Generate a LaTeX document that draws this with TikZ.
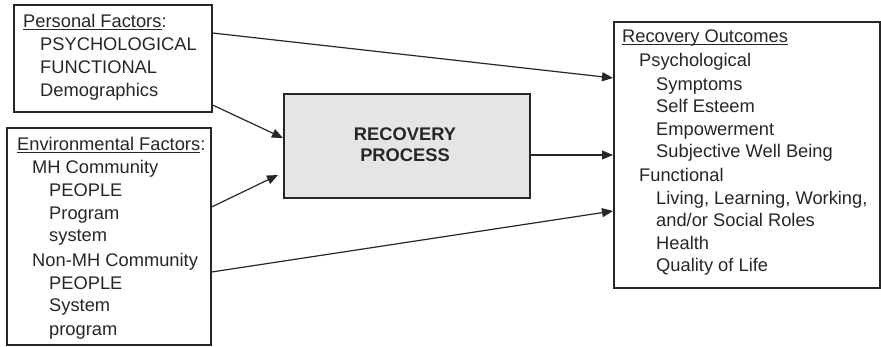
\documentclass[tikz,border=0pt]{standalone}
\usepackage{fontspec}
\setmainfont{Liberation Sans}
\usetikzlibrary{arrows.meta,calc}
\newcommand\myul[1]{\underline{\smash{#1}}}
\begin{document}
\begin{tikzpicture}[x=1pt,y=-1pt,
  box/.style={draw=black!85,line width=1.6pt,rectangle,inner sep=0pt,anchor=north west},
  txt/.style={anchor=base west,inner sep=0pt,font=\fontsize{18.3}{22}\selectfont,text=black!85},
  arr/.style={draw=black!85,line width=1.2pt,-{Triangle[length=11pt,width=9pt]}}]
\useasboundingbox (0,0) rectangle (881,347);
% boxes
\node[box,minimum width=198pt,minimum height=107pt] (pers) at (13,4) {};
\node[box,minimum width=204pt,minimum height=217pt] (env) at (6,127) {};
\node[box,fill=black!10,minimum width=246pt,minimum height=104pt] (rp) at (283,93) {};
\node[box,minimum width=266pt,minimum height=266pt] (out) at (613,21) {};
% personal
\node[txt] (p0) at (23,28) {\myul{Personal Factors}:};
\node[txt] (p1) at (40,51) {PSYCHOLOGICAL};
\node[txt] (p2) at (40,74) {FUNCTIONAL};
\node[txt] (p3) at (40,97) {Demographics};
% environmental
\node[txt] (e0) at (17,151) {\myul{Environmental Factors}:};
\node[txt] (e1) at (32,174) {MH Community};
\node[txt] (e2) at (49,197) {PEOPLE};
\node[txt] (e3) at (49,220) {Program};
\node[txt] (e4) at (49,242) {system};
\node[txt] (e5) at (32,267) {Non-MH Community};
\node[txt] (e6) at (49,290) {PEOPLE};
\node[txt] (e7) at (49,312) {System};
\node[txt] (e8) at (49,335) {program};
% recovery process
\node[txt,anchor=base,font=\fontsize{18.3}{22}\bfseries] (r1) at (405,141) {RECOVERY};
\node[txt,anchor=base,font=\fontsize{18.3}{22}\bfseries] (r2) at (405,162) {PROCESS};
% outcomes
\node[txt] (o0) at (622,43) {\myul{Recovery Outcomes}};
\node[txt] (o1) at (639,67) {Psychological};
\node[txt] (o2) at (656,91) {Symptoms};
\node[txt] (o3) at (656,113) {Self Esteem};
\node[txt] (o4) at (656,136) {Empowerment};
\node[txt] (o5) at (656,158) {Subjective Well Being};
\node[txt] (o6) at (639,182) {Functional};
\node[txt] (o7) at (656,205) {Living, Learning, Working,};
\node[txt] (o8) at (656,227) {and/or Social Roles};
\node[txt] (o9) at (656,250) {Health};
\node[txt] (o10) at (656,272) {Quality of Life};
% connectors
\coordinate (a3end) at (278,175);
\draw[arr] (pers.north east |- 0,33) -- (out.north west |- 0,78);
\draw[arr] (pers.north east |- 0,105) -- (rp.north west |- 0,138);
\draw[arr] (env.north east |- 0,207) -- (a3end);
\draw[arr] (rp.north east |- 0,155) -- (out.north west |- 0,155);
\draw[arr] (env.north east |- 0,272) -- (out.north west |- 0,211);
\end{tikzpicture}
\end{document}
